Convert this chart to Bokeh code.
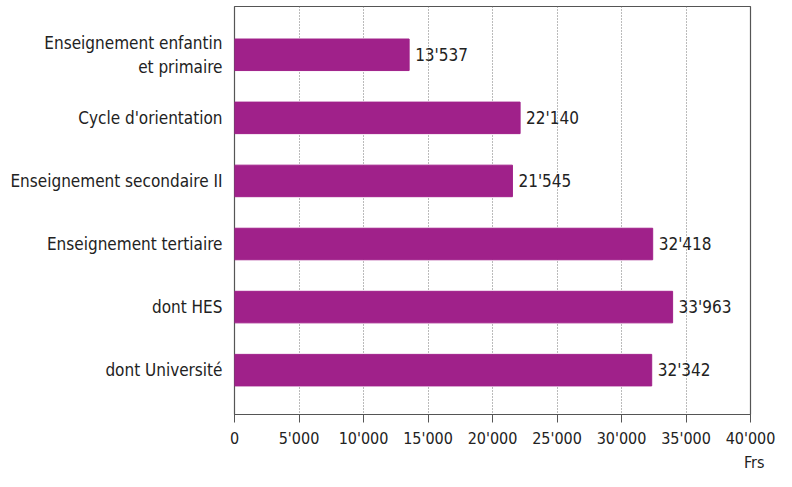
from bokeh.plotting import figure
from bokeh.models import Range1d, FixedTicker, ColumnDataSource, LinearAxis, Title
from bokeh.core.properties import value
from bokeh.embed import file_html
from bokeh.resources import INLINE

categories = ["Enseignement enfantin\net primaire", "Cycle d'orientation",
              "Enseignement secondaire II", "Enseignement tertiaire",
              "dont HES", "dont Université"]
values = [13537, 22140, 21545, 32418, 33963, 32342]
labels = ["13'537", "22'140", "21'545", "32'418", "33'963", "32'342"]
x_ticks = [0, 5000, 10000, 15000, 20000, 25000, 30000, 35000, 40000]
x_tick_labels = ["0", "5'000", "10'000", "15'000", "20'000", "25'000", "30'000", "35'000", "40'000"]
unit_label = "Frs"

FONT = "DejaVu Sans Condensed"
FS = "17px"
FS_TICK = "16px"
COLOR = "#A0218A"
TXT = "#222222"

ypos = list(range(len(categories)))
src = ColumnDataSource(dict(y=ypos, v=values, lab=labels))

y_bottom = 5 + 45 / 64
y_top = -49 / 64

p = figure(width=776, height=471, output_backend="svg", toolbar_location=None,
           x_range=Range1d(0, 40000),
           y_range=Range1d(y_bottom, y_top),
           min_border_left=234, min_border_right=26, min_border_top=6, min_border_bottom=20,
           x_axis_location=None, y_axis_location=None)

p.hbar(y="y", right="v", left=0, height=0.5, color=COLOR, source=src)
p.text(x="v", y="y", text="lab", source=src, x_offset=6, text_baseline="middle",
       text_font=value(FONT), text_font_size=FS, text_color=TXT)

p.outline_line_color = "#555555"
p.outline_line_width = 1.2

xaxis = LinearAxis(ticker=FixedTicker(ticks=x_ticks),
                   major_label_overrides={t: l for t, l in zip(x_ticks, x_tick_labels)})
xaxis.major_tick_in = 0
xaxis.major_tick_out = 8
xaxis.minor_tick_out = 0
xaxis.minor_tick_in = 0
xaxis.axis_line_color = "#555555"
xaxis.major_tick_line_color = "#555555"
xaxis.major_label_text_font = FONT
xaxis.major_label_text_font_size = FS_TICK
xaxis.major_label_text_color = TXT
xaxis.major_label_standoff = 6
p.add_layout(xaxis, "below")

yaxis = LinearAxis(ticker=FixedTicker(ticks=ypos),
                   major_label_overrides={i: c for i, c in zip(ypos, categories)})
yaxis.major_tick_in = 0
yaxis.major_tick_out = 0
yaxis.minor_tick_out = 0
yaxis.minor_tick_in = 0
yaxis.axis_line_color = None
yaxis.major_label_text_font = FONT
yaxis.major_label_text_font_size = FS
yaxis.major_label_text_color = TXT
yaxis.major_label_standoff = 12
p.add_layout(yaxis, "left")

p.xgrid.ticker = FixedTicker(ticks=x_ticks[1:-1])
p.xgrid.grid_line_color = "#777777"
p.xgrid.grid_line_dash = "1 2"
p.ygrid.grid_line_color = None

p.add_layout(Title(text=unit_label, align="right", offset=-14, standoff=0,
                   text_font=FONT, text_font_size=FS_TICK, text_font_style="normal",
                   text_color=TXT), "below")

open("out.html", "w").write(file_html(p, INLINE))
